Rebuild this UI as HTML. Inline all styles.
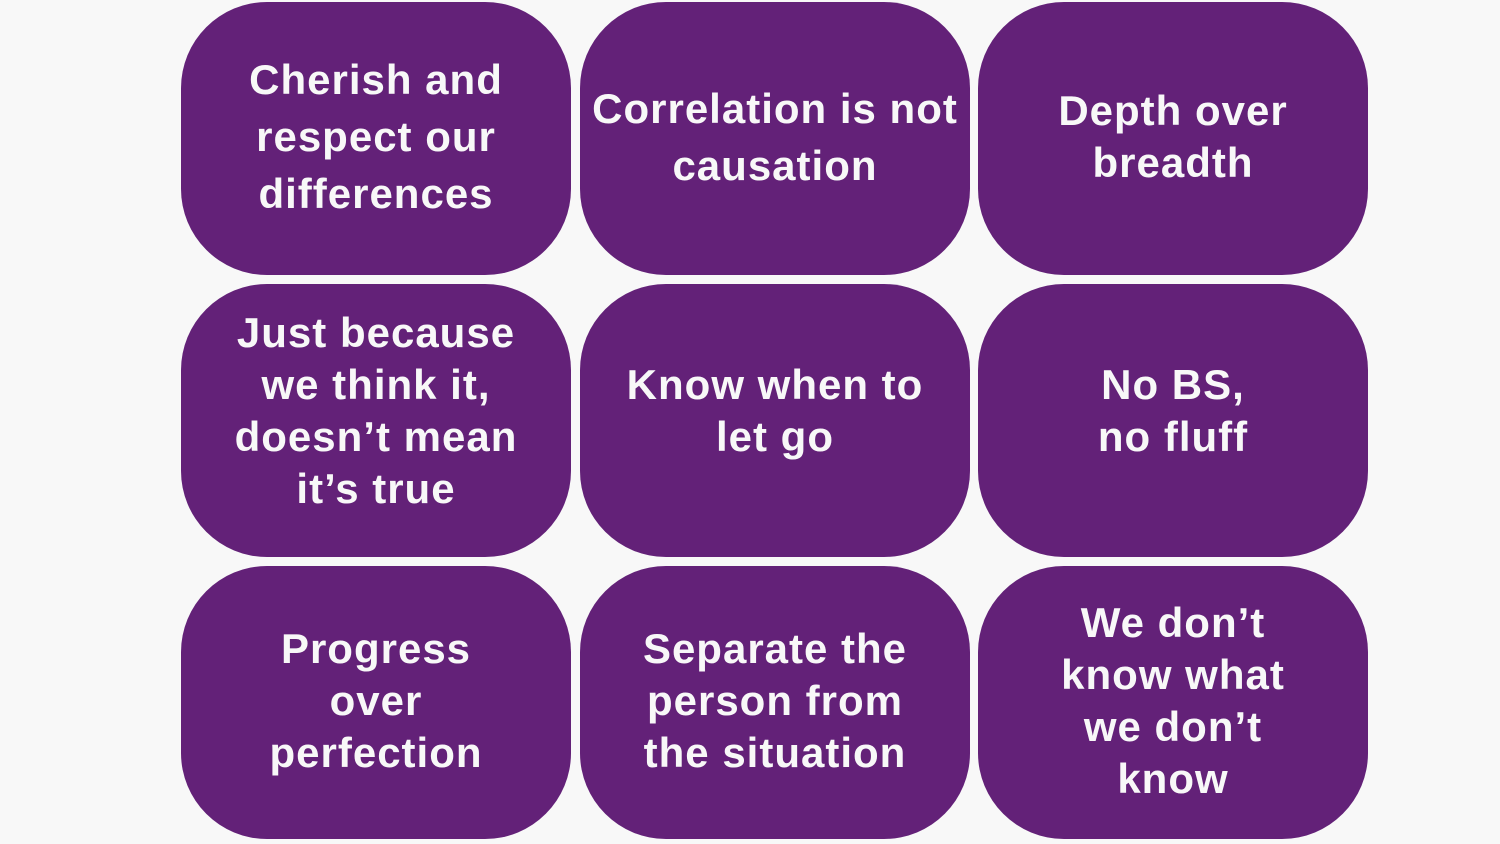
<!DOCTYPE html>
<html><head><meta charset="utf-8"><style>
html,body{margin:0;padding:0;background:#f8f8f8;}
body{width:1500px;height:844px;position:relative;overflow:hidden;font-family:"Liberation Sans",sans-serif;}
.b{position:absolute;width:390px;height:273px;background:#632178;border-radius:86px;display:flex;align-items:center;justify-content:center;text-align:center;color:#f8f8f8;font-weight:bold;font-size:42px;letter-spacing:1px;line-height:52px;}
.b span{display:block;position:relative;top:-2px;}
.c1{left:181px}.c2{left:580px}.c3{left:978px}
.r1{top:2px}.r2{top:284px}.r3{top:566px}
.r2 span{top:-10px}
.tall{line-height:57px}
</style></head><body>
<div class="b c1 r1 tall"><span>Cherish and<br>respect our<br>differences</span></div>
<div class="b c2 r1 tall"><span>Correlation is not<br>causation</span></div>
<div class="b c3 r1"><span>Depth over<br>breadth</span></div>
<div class="b c1 r2"><span>Just because<br>we think it,<br>doesn’t mean<br>it’s true</span></div>
<div class="b c2 r2"><span>Know when to<br>let go</span></div>
<div class="b c3 r2"><span>No BS,<br>no fluff</span></div>
<div class="b c1 r3"><span>Progress<br>over<br>perfection</span></div>
<div class="b c2 r3"><span>Separate the<br>person from<br>the situation</span></div>
<div class="b c3 r3"><span>We don’t<br>know what<br>we don’t<br>know</span></div>
</body></html>
